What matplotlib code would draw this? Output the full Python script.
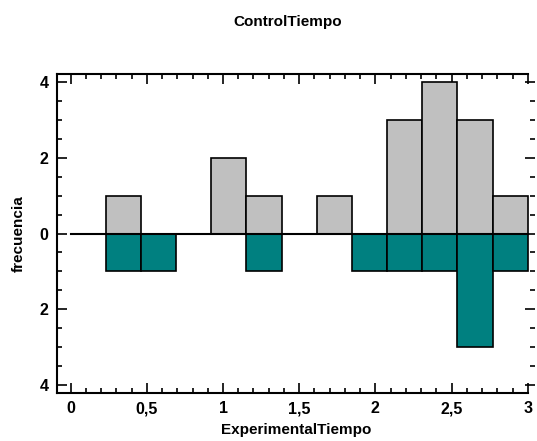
import numpy as np
import matplotlib.pyplot as plt
from matplotlib.ticker import MultipleLocator, FuncFormatter

# --- data: counts per bin (13 bins from 0 to 3) ---
bin_edges = np.linspace(0, 3, 14)
control_counts = [0, 1, 0, 0, 2, 1, 0, 1, 0, 3, 4, 3, 1]        # upper (ControlTiempo)
experimental_counts = [0, 1, 1, 0, 0, 1, 0, 0, 1, 1, 1, 3, 1]   # lower (ExperimentalTiempo)

plt.rcParams['font.family'] = ['Liberation Sans', 'DejaVu Sans']
plt.rcParams['font.weight'] = 'bold'

fig = plt.figure(figsize=(5.37, 4.41), dpi=100)
ax = fig.add_axes([0.106, 0.109, 0.891, 0.723])

widths = np.diff(bin_edges)
lefts = bin_edges[:-1]
up = np.array(control_counts)
down = np.array(experimental_counts)

m = up > 0
ax.bar(lefts[m], up[m], width=widths[m], align='edge', color='#C0C0C0',
       edgecolor='black', linewidth=1.2, zorder=2)
m = down > 0
ax.bar(lefts[m], -down[m], width=widths[m], align='edge', color='#008080',
       edgecolor='black', linewidth=1.2, zorder=2)

ax.plot([0, 3], [0, 0], color='black', linewidth=1.5, zorder=3)

ax.set_xlim(-0.09, 3.05)
ax.set_ylim(-4.2, 4.2)

ax.spines['right'].set_visible(False)
for s in ['left', 'top', 'bottom']:
    ax.spines[s].set_linewidth(1.5)
ax.spines['top'].set_bounds(-0.09, 3.0)
ax.spines['bottom'].set_bounds(-0.09, 3.0)

ax.xaxis.set_major_locator(MultipleLocator(0.5))
ax.xaxis.set_minor_locator(MultipleLocator(0.1))
ax.yaxis.set_major_locator(MultipleLocator(2))
ax.yaxis.set_minor_locator(MultipleLocator(0.5))

ax.xaxis.set_major_formatter(FuncFormatter(lambda v, p: ('%g' % v).replace('.', ',')))
ax.yaxis.set_major_formatter(FuncFormatter(lambda v, p: '%g' % abs(v)))

ax.tick_params(which='both', direction='in', top=True, right=True, width=1.2)
ax.tick_params(which='major', length=7, labelsize=11.5, pad=6)
ax.tick_params(which='minor', length=3.5)
for lab in ax.get_xticklabels() + ax.get_yticklabels():
    lab.set_fontweight('bold')

ax.set_xlabel('ExperimentalTiempo', fontsize=11, fontweight='bold', labelpad=5)
ax.set_ylabel('frecuencia', fontsize=11, fontweight='bold', labelpad=10)
fig.suptitle('ControlTiempo', fontsize=11, fontweight='bold', x=0.535, y=0.965)

fig.savefig('out.png', dpi=100)
